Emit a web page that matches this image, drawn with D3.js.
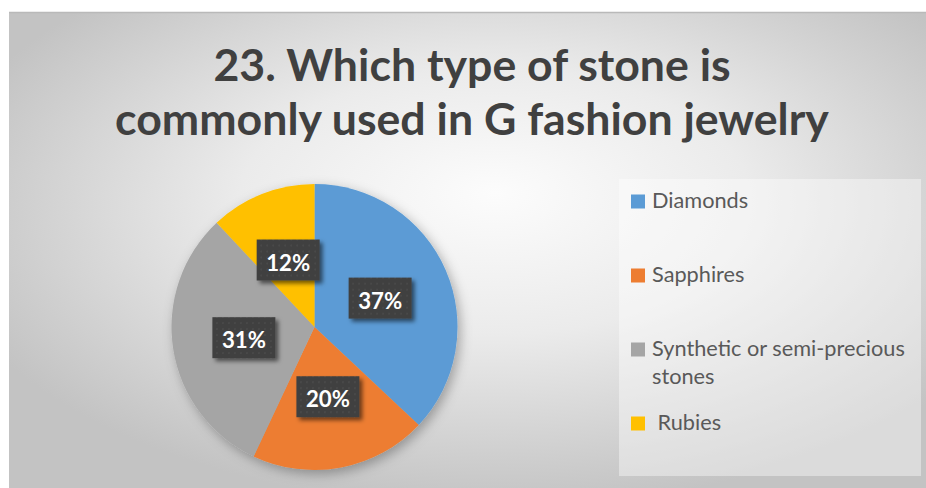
<!DOCTYPE html>
<html>
<head>
<meta charset="utf-8">
<script src="https://cdn.jsdelivr.net/npm/d3@7/dist/d3.min.js"></script>
<style>
  html, body { margin: 0; padding: 0; background: #ffffff; }
  svg { display: block; }
  text { font-family: Lato, "Open Sans", "DejaVu Sans", sans-serif; }
</style>
</head>
<body>
<svg id="chart" width="926" height="488"></svg>
<script>
// ---- data ----
const titleLines = ["23. Which type of stone is", "commonly used in G fashion jewelry"];
const categories = ["Diamonds", "Sapphires", "Synthetic or semi-precious stones", " Rubies"];
const shares = [37, 20, 31, 12];
const colors = ["#5B9BD5", "#ED7D31", "#A5A5A5", "#FFC000"];

const data = categories.map((c, i) => ({ name: c, value: shares[i], color: colors[i] }));

const W = 926, H = 488;
const svg = d3.select("#chart");
const defs = svg.append("defs");

// chart-area radial gradient
const bg = defs.append("radialGradient").attr("id", "bgGrad")
  .attr("cx", 0.53).attr("cy", 0.42).attr("r", 0.62).attr("fx", 0.53).attr("fy", 0.38);
bg.append("stop").attr("offset", 0).attr("stop-color", "#fcfcfc");
bg.append("stop").attr("offset", 0.45).attr("stop-color", "#ebebeb");
bg.append("stop").attr("offset", 1).attr("stop-color", "#c3c3c3");

// pie shadow
const pieShadow = defs.append("filter").attr("id", "pieShadow")
  .attr("x", "-20%").attr("y", "-20%").attr("width", "140%").attr("height", "140%");
pieShadow.append("feDropShadow").attr("dx", 3).attr("dy", 4).attr("stdDeviation", 6)
  .attr("flood-color", "#000").attr("flood-opacity", 0.3);

// label-box shadow
const boxShadow = defs.append("filter").attr("id", "boxShadow")
  .attr("x", "-30%").attr("y", "-30%").attr("width", "160%").attr("height", "160%");
boxShadow.append("feDropShadow").attr("dx", 3).attr("dy", 3).attr("stdDeviation", 2.2)
  .attr("flood-color", "#000").attr("flood-opacity", 0.55);

// subtle dotted texture on label boxes
const pat = defs.append("pattern").attr("id", "dots")
  .attr("width", 6).attr("height", 6).attr("patternUnits", "userSpaceOnUse");
pat.append("rect").attr("width", 6).attr("height", 6).attr("fill", "#404040");
pat.append("circle").attr("cx", 3).attr("cy", 3).attr("r", 1.1).attr("fill", "#4a4a4a");

// ---- chart area ----
const area = { x: 9, y: 12, w: W - 9, h: H - 12 };
svg.append("rect").attr("x", area.x).attr("y", area.y).attr("width", area.w).attr("height", area.h)
  .attr("fill", "url(#bgGrad)");
svg.append("line").attr("x1", area.x).attr("x2", W).attr("y1", area.y + 0.5).attr("y2", area.y + 0.5)
  .attr("stroke", "#b9b9b9").attr("stroke-width", 1.5);

// ---- title ----
const titleG = svg.append("g");
const titleText = titleG.selectAll("text").data(titleLines).join("text")
  .attr("x", 472).attr("y", (d, i) => 81 + i * 54)
  .attr("text-anchor", "middle")
  .attr("font-weight", 700).attr("font-size", 40).attr("fill", "#404040")
  .text(d => d);
// size the title so its longest line spans the header width
{
  const w = titleText.nodes()[1].getComputedTextLength();
  titleText.attr("font-size", 40 * 714 / w);
}

// ---- pie ----
const cx = 314.5, cy = 327, R = 143;
const pie = d3.pie().value(d => d.value).sort(null);
const arcs = pie(data);
const arc = d3.arc().innerRadius(0).outerRadius(R);
const labelArc = d3.arc().innerRadius(R * 0.5).outerRadius(R * 0.5);

const pieG = svg.append("g").attr("transform", `translate(${cx},${cy})`);
pieG.append("g").attr("filter", "url(#pieShadow)")
  .selectAll("path").data(arcs).join("path")
  .attr("d", arc)
  .attr("fill", d => d.data.color);

// data labels
const labG = pieG.selectAll("g.lab").data(arcs).join("g").attr("class", "lab")
  .attr("transform", d => `translate(${labelArc.centroid(d)})`);
const labText = labG.append("text")
  .attr("text-anchor", "middle")
  .attr("font-weight", 700).attr("font-size", 22).attr("fill", "#ffffff")
  .text(d => d.data.value + "%");
{
  const w = labText.nodes()[0].getComputedTextLength();
  labText.attr("font-size", 22 * 44 / w);
}
const labFs = +labText.attr("font-size");
labText.attr("y", labFs * 0.36 + 2);
labG.each(function () {
  const g = d3.select(this);
  const tw = g.select("text").node().getComputedTextLength();
  const bw = tw + 19, bh = 41;
  g.insert("rect", "text")
    .attr("x", -bw / 2).attr("y", -bh / 2 - 0.5).attr("width", bw).attr("height", bh)
    .attr("fill", "url(#dots)").attr("filter", "url(#boxShadow)");
});

// ---- legend ----
const leg = { x: 619, y: 179, w: 302, h: 297 };
svg.append("rect").attr("x", leg.x).attr("y", leg.y).attr("width", leg.w).attr("height", leg.h)
  .attr("fill", "#ffffff").attr("fill-opacity", 0.4);

// legend font sized so the widest line fits the box
let legFs = 20;
{
  const probe = svg.append("text").attr("font-size", 20).text("Synthetic or semi-precious");
  legFs = 20 * 253 / probe.node().getComputedTextLength();
  probe.remove();
}

const legY = d3.scaleLinear().domain([0, categories.length - 1]).range([208, 430]);
const items = svg.append("g").selectAll("g").data(data).join("g")
  .attr("transform", (d, i) => `translate(631,${legY(i)})`);
items.append("rect").attr("x", 0).attr("y", -13.5).attr("width", 14).attr("height", 14)
  .attr("fill", d => d.color);
const legText = items.append("text")
  .attr("x", 21).attr("y", 0)
  .attr("font-size", legFs).attr("fill", "#595959")
  .style("white-space", "pre");

// wrap long legend names onto extra lines
const maxW = 270;
legText.each(function (d) {
  const t = d3.select(this);
  const words = d.name.split(" ");
  let line = [];
  let tspan = t.append("tspan").attr("x", 21).attr("dy", 0);
  words.forEach(w => {
    line.push(w);
    tspan.text(line.join(" "));
    if (tspan.node().getComputedTextLength() > maxW && line.length > 1) {
      line.pop();
      tspan.text(line.join(" "));
      line = [w];
      tspan = t.append("tspan").attr("x", 21).attr("dy", 28).text(w);
    }
  });
});
</script>
</body>
</html>
